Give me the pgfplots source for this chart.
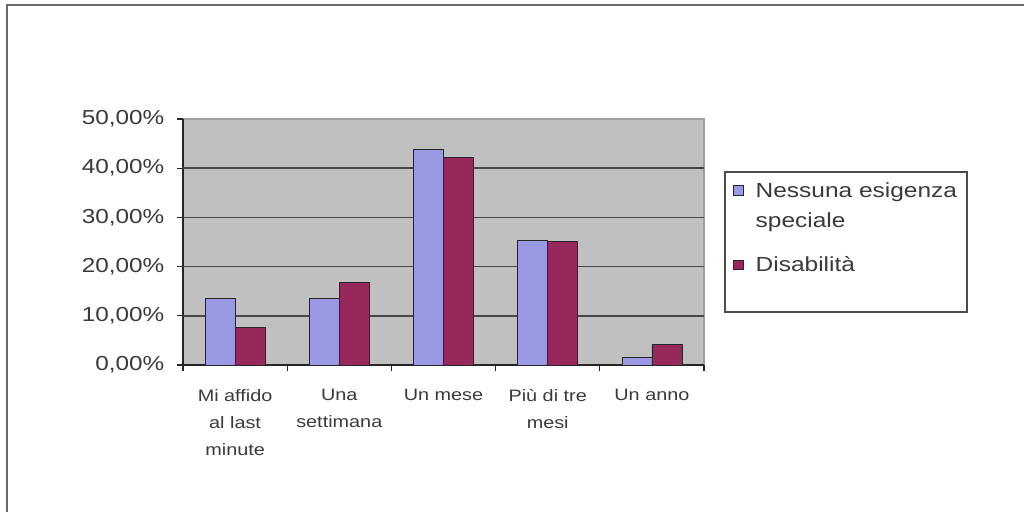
\documentclass[border=0pt]{standalone}
\usepackage{pgfplots}
\pgfplotsset{compat=1.18}
\usepackage{fontspec}
\setmainfont{Liberation Sans}
\usepackage{graphicx}

\definecolor{serieA}{RGB}{153,153,228}
\definecolor{serieB}{RGB}{150,40,92}
\definecolor{plotbg}{RGB}{192,192,192}
\definecolor{txt}{RGB}{58,58,58}
\definecolor{frame}{RGB}{105,105,105}
% slightly widened lettering
\newcommand\wide[1]{\scalebox{1.2}[1]{#1}}
\renewcommand{\arraystretch}{1.25}

\begin{document}
\begin{tikzpicture}[x=1pt,y=1pt]
\useasboundingbox (0,0) rectangle (768,384);
\fill[white] (0,0) rectangle (768,384);
\draw[line width=1.5pt, color=frame] (4.9,0) -- (4.9,379.9) -- (768,379.9);
\begin{axis}[
  at={(137.25pt,110.25pt)}, anchor=south west,
  width=390.75pt, height=184.5pt, scale only axis,
  xmin=-0.5, xmax=4.5, ymin=0, ymax=50,
  ybar=0pt, bar width=22.5pt,
  axis background/.style={fill=plotbg, draw=gray!75, line width=0.8pt},
  axis x line*=bottom, axis y line*=left,
  axis line style={line width=0.9pt, color=black!85},
  tick align=outside, major tick length=4.5pt,
  tick style={line width=0.9pt, color=black!85},
  ytick={0,10,20,30,40,50},
  yticklabels={{\wide{0,00\%}},{\wide{10,00\%}},{\wide{20,00\%}},{\wide{30,00\%}},{\wide{40,00\%}},{\wide{50,00\%}}},
  yticklabel style={font=\fontsize{15.2}{18}\selectfont, text=txt, xshift=-6pt},
  extra y ticks={10,20,30,40},
  extra y tick labels={},
  extra y tick style={grid=major, major grid style={line width=1.3pt, color=black!72}},
  xtick={-0.5,0.5,1.5,2.5,3.5,4.5},
  x tick label as interval,
  xticklabels={
    {\wide{Mi affido}\\\wide{al last}\\\wide{minute}},
    {\wide{Una}\\\wide{settimana}},
    {\wide{Un mese}},
    {\wide{Più di tre}\\\wide{mesi}},
    {\wide{Un anno}}},
  xticklabel style={font=\fontsize{12.4}{20.6}\selectfont, text=txt, align=center, anchor=north, yshift=-10pt},
  legend style={at={(1.0557,0.78)}, anchor=north west, draw=none, fill=none,
    inner sep=0pt, row sep=12.5pt, column sep=7pt, font=\fontsize{15.3}{18}\selectfont, text=txt,
    cells={anchor=base west}},
  legend image code/.code={\draw[#1, draw=black!85, line width=0.6pt] (0pt,1.2pt) rectangle (7.2pt,8.4pt);},
  clip=false,
]
\addplot[fill=serieA, draw=black!85, line width=0.6pt]
  coordinates {(0,13.5) (1,13.5) (2,43.8) (3,25.4) (4,1.5)};
\addlegendentry[text depth=28pt]{\begin{tabular}[t]{@{}l@{}}\wide{Nessuna esigenza}\\\wide{speciale}\end{tabular}}
\addplot[fill=serieB, draw=black!85, line width=0.6pt]
  coordinates {(0,7.6) (1,16.8) (2,42.1) (3,25.1) (4,4.2)};
\addlegendentry{\wide{Disabilità}}
\end{axis}
\draw[line width=1.1pt, color=black!70] (543.75,150) rectangle (725.25,255);
\end{tikzpicture}
\end{document}
